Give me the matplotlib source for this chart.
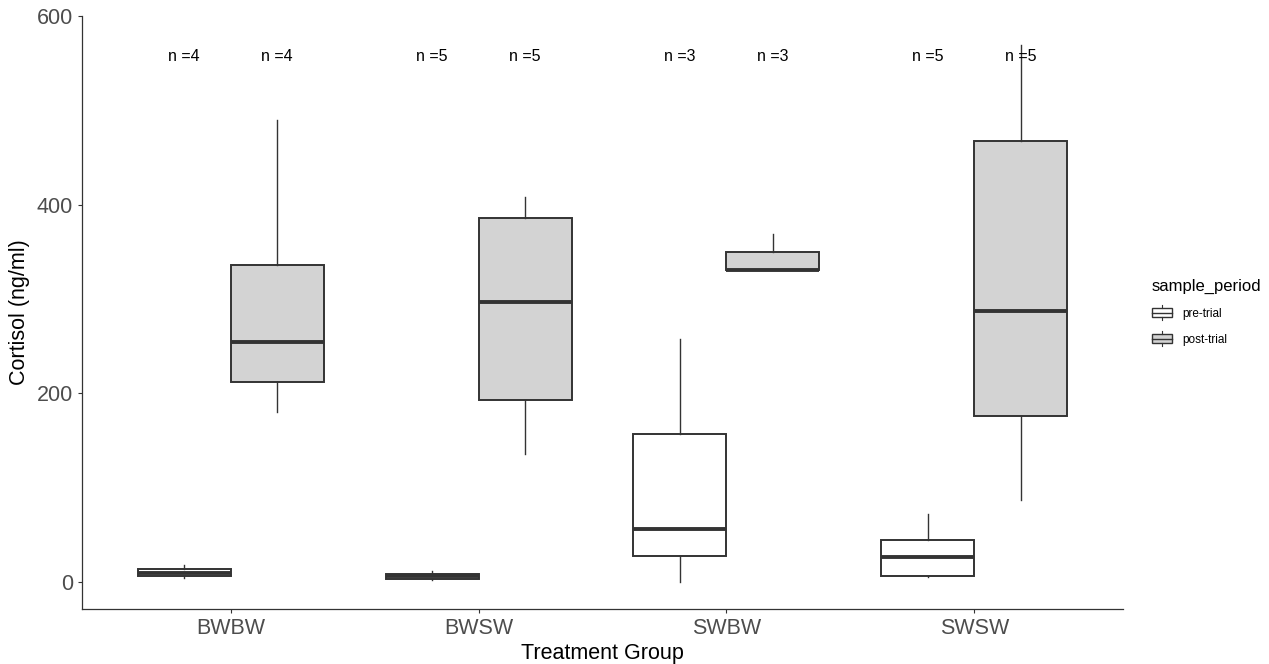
import matplotlib.pyplot as plt
from matplotlib.patches import Rectangle
from matplotlib.lines import Line2D
from matplotlib.legend_handler import HandlerBase
import numpy as np

plt.rcParams['font.family'] = ['Liberation Sans', 'DejaVu Sans']

groups = ["BWBW", "BWSW", "SWBW", "SWSW"]
periods = ["pre-trial", "post-trial"]
fills = {"pre-trial": "white", "post-trial": "#d3d3d3"}

pre_trial = [
    [4, 7.3, 12.7, 18],
    [2, 3.5, 6.5, 8.5, 11.5],
    [0, 56, 258],
    [5, 6.5, 27, 44.5, 72],
]
post_trial = [
    [180, 222.7, 285.3, 490],
    [136, 193, 297, 386, 408],
    [331, 331, 369],
    [87, 176, 287, 468, 569],
]
n_label_y = 557

edge = "#333333"

fig = plt.figure(figsize=(12.69, 6.64), dpi=100)
ax = fig.add_axes([82 / 1269, 55 / 664, (1123 - 82) / 1269, (609 - 15.5) / 664])

width = 0.375
for k, (period, data) in enumerate(zip(periods, [pre_trial, post_trial])):
    pos = np.arange(1, len(groups) + 1) + (k - 0.5) * width
    ax.boxplot(data, positions=pos, widths=width, patch_artist=True,
               whis=1.5, showfliers=False, showcaps=False,
               boxprops=dict(facecolor=fills[period], edgecolor=edge, linewidth=1.4),
               medianprops=dict(color=edge, linewidth=2.8, solid_capstyle="butt"),
               whiskerprops=dict(color=edge, linewidth=1.0))
    for x, d in zip(pos, data):
        ax.text(x, n_label_y, f"n ={len(d)}", ha="center", va="center",
                fontsize=11.5, color="black")

ax.set_xlim(0.4, 4.6)
ax.set_ylim(-28.6, 600.6)
ax.set_xticks(np.arange(1, len(groups) + 1))
ax.set_xticklabels(groups)
ax.set_yticks([0, 200, 400, 600])
ax.tick_params(axis="both", colors=edge, labelcolor="#4d4d4d", labelsize=15.5,
               length=3, width=0.8, pad=3.5)
for s in ["top", "right"]:
    ax.spines[s].set_visible(False)
for s in ["left", "bottom"]:
    ax.spines[s].set_color("#333333")
    ax.spines[s].set_linewidth(0.9)
ax.set_xlabel("Treatment Group", fontsize=15.5, labelpad=3)
ax.set_ylabel("Cortisol (ng/ml)", fontsize=15.5, labelpad=5)


class BoxHandler(HandlerBase):
    def create_artists(self, legend, orig_handle, xdescent, ydescent,
                       width, height, fontsize, trans):
        cx = width / 2 - xdescent
        h = height
        rect = Rectangle((-xdescent, -ydescent + 0.12 * h), width, 0.76 * h,
                         facecolor=orig_handle.get_facecolor(), edgecolor=edge,
                         linewidth=1.0, transform=trans)
        med = Line2D([-xdescent, -xdescent + width], [-ydescent + 0.5 * h] * 2,
                     color=edge, linewidth=1.0, transform=trans)
        w1 = Line2D([cx, cx], [-ydescent + 0.88 * h, -ydescent + 1.15 * h],
                    color=edge, linewidth=0.8, transform=trans)
        w2 = Line2D([cx, cx], [-ydescent - 0.15 * h, -ydescent + 0.12 * h],
                    color=edge, linewidth=0.8, transform=trans)
        return [rect, med, w1, w2]


handles = [Rectangle((0, 0), 1, 1, facecolor=fills[p]) for p in periods]
fig.legend(handles, periods, title="sample_period", loc="center left",
           bbox_to_anchor=(1141 / 1269, 1 - 312 / 664), frameon=False,
           fontsize=8.5, title_fontsize=12, handler_map={Rectangle: BoxHandler()},
           handlelength=1.7, handleheight=1.2, handletextpad=0.9,
           alignment="left", labelspacing=1.1)

fig.savefig("out.png", dpi=100)
